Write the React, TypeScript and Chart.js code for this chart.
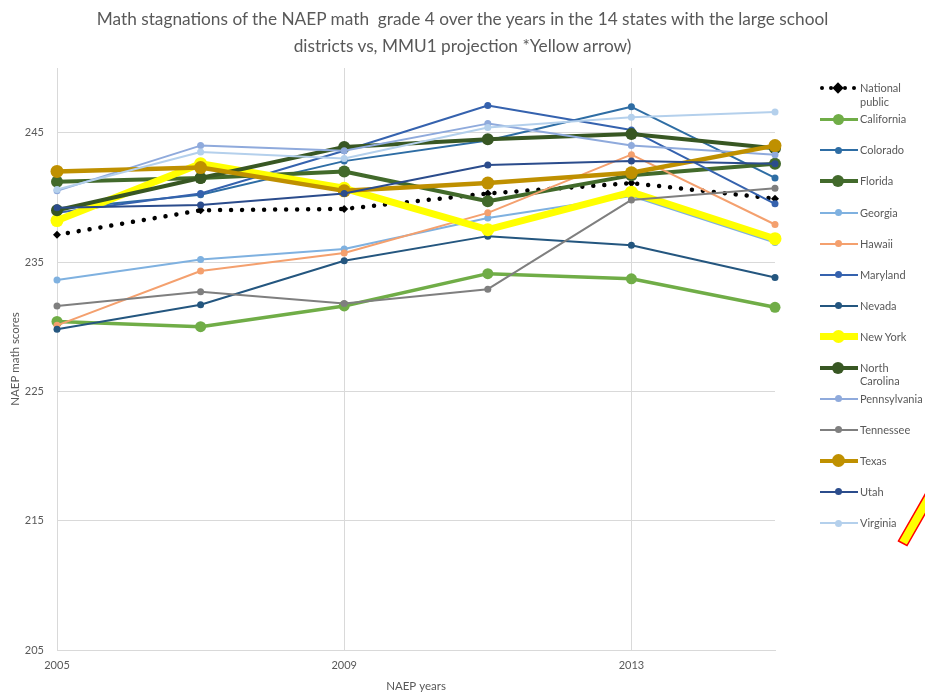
import React, { useEffect, useRef } from "react";
import { Chart, registerables } from "chart.js";

Chart.register(...registerables);

const years = [2005, 2007, 2009, 2011, 2013, 2015];
const xTickYears = [2005, 2009, 2013];
const yTickValues = [205, 215, 225, 235, 245];

const nationalPublic = [237.1, 239.0, 239.1, 240.3, 241.1, 239.9];
const california = [230.4, 230.0, 231.6, 234.1, 233.7, 231.5];
const colorado = [239.1, 240.2, 242.8, 244.4, 247.0, 241.5];
const florida = [241.2, 241.5, 242.0, 239.7, 241.7, 242.6];
const georgia = [233.6, 235.2, 236.0, 238.4, 240.1, 236.5];
const hawaii = [230.1, 234.3, 235.7, 238.8, 243.3, 237.9];
const maryland = [238.8, 240.3, 243.6, 247.1, 245.2, 239.5];
const nevada = [229.8, 231.7, 235.1, 237.0, 236.3, 233.8];
const newYork = [238.2, 242.6, 240.7, 237.5, 240.4, 236.8];
const northCarolina = [239.0, 241.5, 243.9, 244.5, 244.9, 243.8];
const pennsylvania = [240.5, 244.0, 243.6, 245.7, 244.0, 243.3];
const tennessee = [231.6, 232.7, 231.8, 232.9, 239.8, 240.7];
const texas = [242.0, 242.3, 240.5, 241.1, 241.9, 244.0];
const utah = [239.2, 239.4, 240.3, 242.5, 242.8, 242.6];
const virginia = [240.6, 243.5, 243.0, 245.4, 246.2, 246.6];

type SeriesDef = {
  name: string;
  label: string[];
  values: number[];
  color: string;
  width: number;
  radius: number;
  dotted?: boolean;
};

const series: SeriesDef[] = [
  { name: "National public", label: ["National", "public"], values: nationalPublic, color: "#000000", width: 4.5, radius: 4, dotted: true },
  { name: "California", label: ["California"], values: california, color: "#70AD47", width: 3.5, radius: 5.5 },
  { name: "Colorado", label: ["Colorado"], values: colorado, color: "#2E6DA4", width: 2, radius: 3.5 },
  { name: "Florida", label: ["Florida"], values: florida, color: "#426A2B", width: 4, radius: 6 },
  { name: "Georgia", label: ["Georgia"], values: georgia, color: "#7FB1E0", width: 2, radius: 3.5 },
  { name: "Hawaii", label: ["Hawaii"], values: hawaii, color: "#F4A06E", width: 2, radius: 3.5 },
  { name: "Maryland", label: ["Maryland"], values: maryland, color: "#3562AE", width: 2, radius: 3.5 },
  { name: "Nevada", label: ["Nevada"], values: nevada, color: "#24567F", width: 2, radius: 3.5 },
  { name: "New York", label: ["New York"], values: newYork, color: "#FFFF00", width: 7, radius: 6.5 },
  { name: "North Carolina", label: ["North", "Carolina"], values: northCarolina, color: "#385723", width: 4, radius: 6 },
  { name: "Pennsylvania", label: ["Pennsylvania"], values: pennsylvania, color: "#8FAADC", width: 2, radius: 3.5 },
  { name: "Tennessee", label: ["Tennessee"], values: tennessee, color: "#7F7F7F", width: 2, radius: 3.5 },
  { name: "Texas", label: ["Texas"], values: texas, color: "#BF9000", width: 4.5, radius: 6.5 },
  { name: "Utah", label: ["Utah"], values: utah, color: "#2B4C8C", width: 2, radius: 3.5 },
  { name: "Virginia", label: ["Virginia"], values: virginia, color: "#B4D0EC", width: 2, radius: 3.5 },
];

const TEXT = "#595959";
const GRID = "#D9D9D9";
const FONT = "Lato, 'Open Sans', sans-serif";

function LegendItem({ s, idx }: { s: SeriesDef; idx: number }) {
  const yc = 88.3 + idx * 31.05;
  const parts: React.ReactNode[] = [];
  if (s.dotted) {
    [822, 831, 845, 854].forEach((x, i) =>
      parts.push(
        <div key={"d" + i} style={{ position: "absolute", left: x - 2, top: yc - 2, width: 4, height: 4, borderRadius: 2, background: "#000" }} />
      )
    );
    parts.push(
      <div key="m" style={{ position: "absolute", left: 838 - 4, top: yc - 4, width: 8, height: 8, background: "#000", transform: "rotate(45deg)" }} />
    );
  } else {
    parts.push(
      <div key="l" style={{ position: "absolute", left: 820, top: yc - s.width / 2, width: 38, height: s.width, background: s.color }} />
    );
    parts.push(
      <div key="c" style={{ position: "absolute", left: 838 - s.radius, top: yc - s.radius, width: s.radius * 2, height: s.radius * 2, borderRadius: "50%", background: s.color }} />
    );
  }
  return (
    <>
      {parts}
      <div style={{ position: "absolute", left: 860, top: yc - 7, fontSize: 11, lineHeight: "13.5px", color: TEXT, whiteSpace: "nowrap" }}>
        {s.label.map((t, i) => (
          <div key={i}>{t}</div>
        ))}
      </div>
    </>
  );
}

export default function App() {
  const canvasRef = useRef<HTMLCanvasElement | null>(null);

  useEffect(() => {
    const canvas = canvasRef.current;
    if (!canvas) return;
    const n = series.length;
    const chart = new Chart(canvas, {
      type: "line",
      data: {
        datasets: series.map((s, i) => ({
          label: s.name,
          data: years.map((yr, j) => ({ x: yr, y: s.values[j] })),
          borderColor: s.color,
          backgroundColor: s.color,
          borderWidth: s.width,
          borderDash: s.dotted ? [0.01, 11] : [],
          borderCapStyle: s.dotted ? "round" : "butt",
          borderJoinStyle: "round",
          pointRadius: s.radius,
          pointStyle: s.dotted ? "rectRot" : "circle",
          pointBackgroundColor: s.color,
          pointBorderColor: s.color,
          pointBorderWidth: 0,
          tension: 0,
          clip: false,
          order: n - i,
        })) as any,
      },
      options: {
        animation: false,
        responsive: false,
        devicePixelRatio: 1,
        layout: { padding: { left: 0, top: 68, right: 150, bottom: 0 } },
        plugins: {
          legend: { display: false },
          title: { display: false },
          tooltip: { enabled: false },
        },
        scales: {
          x: {
            type: "linear",
            min: 2005,
            max: 2015,
            afterBuildTicks: (scale: any) => {
              scale.ticks = xTickYears.map((v) => ({ value: v }));
            },
            afterFit: (scale: any) => {
              scale.height = 47;
            },
            ticks: {
              color: TEXT,
              font: { family: FONT, size: 11 },
              padding: 9,
              maxRotation: 0,
              callback: (v: any) => String(v),
            },
            grid: { color: GRID, lineWidth: 1, drawTicks: false },
            border: { display: true, color: GRID, width: 1 },
            title: {
              display: true,
              text: "NAEP years",
              color: TEXT,
              font: { family: FONT, size: 11.5 },
              padding: { top: 4, bottom: 4 },
            },
          },
          y: {
            type: "linear",
            min: 205,
            max: 250,
            afterBuildTicks: (scale: any) => {
              scale.ticks = yTickValues.map((v) => ({ value: v }));
            },
            afterFit: (scale: any) => {
              scale.width = 57;
            },
            ticks: {
              color: TEXT,
              font: { family: FONT, size: 11 },
              padding: 13,
              callback: (v: any) => String(v),
            },
            grid: { color: GRID, lineWidth: 1, drawTicks: false },
            border: { display: false },
            title: {
              display: true,
              text: "NAEP math scores",
              color: TEXT,
              font: { family: FONT, size: 11.5 },
              padding: { top: 8, bottom: 4 },
            },
          },
        },
      },
    });
    return () => chart.destroy();
  }, []);

  return (
    <div
      style={{
        position: "absolute",
        left: 0,
        top: 0,
        width: 925,
        height: 697,
        overflow: "hidden",
        background: "#fff",
        fontFamily: FONT,
      }}
    >
      <canvas ref={canvasRef} width={925} height={697} style={{ position: "absolute", left: 0, top: 0, width: 925, height: 697 }} />
      <div
        style={{
          position: "absolute",
          left: 0,
          top: 5,
          width: 925,
          textAlign: "center",
          color: TEXT,
          fontSize: 17.25,
          lineHeight: "27px",
        }}
      >
        <div>Math stagnations of the NAEP math&nbsp; grade 4 over the years in the 14 states with the large school</div>
        <div>districts vs, MMU1 projection *Yellow arrow)</div>
      </div>
      {series.map((s, i) => (
        <LegendItem key={s.name} s={s} idx={i} />
      ))}
      <svg width={925} height={697} style={{ position: "absolute", left: 0, top: 0, pointerEvents: "none" }}>
        <polygon points="898.5,541 907,545.5 945,479 936.5,474.5" fill="#FFFF00" stroke="#FF0000" strokeWidth={1.5} />
      </svg>
    </div>
  );
}
